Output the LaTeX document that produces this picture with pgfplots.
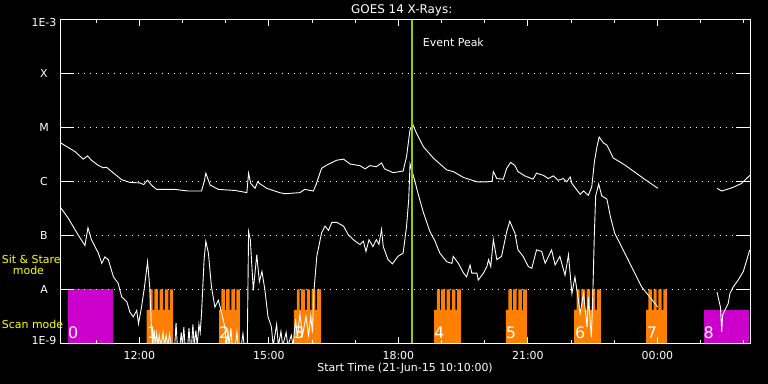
\documentclass[border=0pt]{standalone}
\usepackage{pgfplots}
\pgfplotsset{compat=1.18}
\usepackage{pgfplotstable}
\usepackage{fontspec}
\setmainfont{DejaVu Sans}
\definecolor{pkgreen}{RGB}{153,204,0}
\definecolor{modeorange}{RGB}{255,128,0}
\definecolor{modepurple}{RGB}{204,0,204}
\definecolor{labyellow}{RGB}{255,255,0}

% long-wavelength channel (1-8 A), hours since 00:00 21-Jun, log10 flux
\pgfplotstableread{
x y
10.18 -5.29
10.51 -5.45
10.70 -5.59
10.80 -5.53
10.89 -5.61
11.04 -5.70
11.16 -5.75
11.24 -5.74
11.39 -5.84
11.59 -5.97
11.78 -6.02
12.01 -6.03
12.10 -6.06
12.19 -5.98
12.28 -6.07
12.40 -6.15
12.59 -6.15
12.82 -6.15
13.13 -6.18
13.44 -6.18
13.50 -6.01
13.54 -5.85
13.64 -6.07
13.83 -6.15
14.22 -6.17
14.49 -6.21
14.53 -5.85
14.58 -6.04
14.68 -6.13
14.74 -6.01
14.80 -6.05
14.95 -6.13
15.25 -6.21
15.37 -6.23
15.72 -6.21
15.83 -6.15
16.03 -6.18
16.09 -6.07
16.22 -5.76
16.34 -5.70
16.57 -5.61
16.73 -5.59
16.88 -5.68
17.11 -5.71
17.23 -5.77
17.34 -5.71
17.49 -5.73
17.61 -5.66
17.68 -5.77
17.88 -5.84
18.11 -5.81
18.19 -5.54
18.27 -5.04
18.33 -4.94
18.42 -5.11
18.58 -5.36
18.81 -5.57
19.12 -5.79
19.27 -5.82
19.51 -5.93
19.82 -6.01
20.05 -6.01
20.17 -6.00
20.20 -5.82
20.28 -5.95
20.43 -5.96
20.51 -5.76
20.60 -5.65
20.70 -5.71
20.77 -5.82
20.93 -5.90
21.12 -5.96
21.20 -5.85
21.36 -5.89
21.47 -5.95
21.59 -5.90
21.70 -5.98
21.82 -5.95
21.90 -6.01
21.98 -5.92
22.02 -6.04
22.21 -6.24
22.29 -6.18
22.40 -6.26
22.48 -6.10
22.54 -5.64
22.60 -5.36
22.65 -5.18
22.75 -5.29
22.83 -5.33
22.98 -5.57
23.25 -5.70
23.63 -5.92
24.01 -6.13
}\upA
\pgfplotstableread{
x y
25.38 -6.13
25.49 -6.18
25.73 -6.12
25.95 -6.04
26.14 -5.89
}\upB

% short-wavelength channel (0.5-4 A); -9.05 = below the plotted range
\pgfplotstableread{
x y
10.18 -6.49
10.35 -6.68
10.58 -6.99
10.74 -7.19
10.81 -6.86
10.89 -7.08
11.05 -7.33
11.13 -7.52
11.20 -7.40
11.28 -7.45
11.40 -7.77
11.51 -7.89
11.59 -8.14
11.71 -8.23
11.78 -8.42
11.86 -8.51
11.94 -8.39
11.98 -8.64
12.05 -8.33
12.12 -7.95
12.19 -7.49
12.24 -7.95
12.28 -8.70
12.31 -9.05
12.34 -8.75
12.37 -9.05
12.40 -8.82
12.43 -9.05
12.46 -8.85
12.50 -9.05
12.55 -8.80
12.58 -9.05
12.62 -8.85
12.66 -9.05
12.70 -8.83
12.74 -9.05
12.82 -9.05
12.85 -8.62
12.88 -9.05
12.94 -9.05
12.97 -8.80
13.00 -9.05
13.03 -8.70
13.06 -9.05
13.12 -9.05
13.15 -8.72
13.18 -9.05
13.21 -9.05
13.24 -8.65
13.27 -9.05
13.31 -8.76
13.34 -9.05
13.38 -8.65
13.41 -8.80
13.44 -8.45
13.50 -7.45
13.54 -7.11
13.60 -7.33
13.67 -7.95
13.75 -8.33
13.83 -8.20
13.91 -8.45
13.98 -8.70
14.02 -9.05
14.05 -8.75
14.08 -9.05
14.12 -8.72
14.15 -9.05
14.22 -9.05
14.26 -8.80
14.29 -9.05
14.36 -9.05
14.40 -8.82
14.43 -9.05
14.50 -9.05
14.53 -6.93
14.57 -7.08
14.64 -8.02
14.72 -7.36
14.78 -7.86
14.84 -7.67
14.91 -8.02
14.98 -8.51
15.06 -8.70
15.10 -9.05
15.18 -8.65
15.22 -9.05
15.28 -8.78
15.32 -9.05
15.40 -8.80
15.44 -9.05
15.52 -8.85
15.56 -9.05
15.62 -8.55
15.66 -8.90
15.72 -8.45
15.78 -8.85
15.86 -8.50
15.92 -8.85
15.97 -8.50
16.01 -8.80
16.04 -8.08
16.11 -7.39
16.22 -6.96
16.30 -6.83
16.38 -6.91
16.46 -6.76
16.57 -6.76
16.73 -6.83
16.84 -6.99
17.00 -7.11
17.11 -7.17
17.19 -7.11
17.25 -7.30
17.32 -7.08
17.41 -7.21
17.49 -7.08
17.55 -7.17
17.61 -6.89
17.65 -7.21
17.76 -7.45
17.86 -7.53
17.99 -7.39
18.11 -7.33
18.19 -6.83
18.24 -6.33
18.27 -5.68
18.38 -5.99
18.46 -6.24
18.58 -6.58
18.73 -6.93
18.85 -7.11
18.96 -7.33
19.12 -7.49
19.24 -7.52
19.27 -7.39
19.39 -7.52
19.51 -7.70
19.58 -7.77
19.66 -7.55
19.70 -7.70
19.82 -7.70
19.85 -7.83
19.97 -7.70
20.05 -7.58
20.09 -7.45
20.14 -7.58
20.20 -7.08
20.28 -7.45
20.39 -7.39
20.51 -6.93
20.58 -6.74
20.70 -6.96
20.77 -7.27
20.89 -7.39
21.01 -7.58
21.09 -7.61
21.20 -7.27
21.32 -7.30
21.40 -7.52
21.55 -7.27
21.63 -7.55
21.74 -7.39
21.86 -7.74
21.94 -7.36
22.02 -8.08
22.09 -7.77
22.17 -8.20
22.21 -8.45
22.29 -8.08
22.37 -8.70
22.40 -8.14
22.47 -8.89
22.50 -8.20
22.54 -6.96
22.57 -6.27
22.64 -6.05
22.71 -6.27
22.83 -6.33
22.91 -6.65
23.01 -6.96
23.32 -7.45
23.63 -7.95
24.01 -8.33
}\loA
\pgfplotstableread{
x y
25.38 -8.05
25.42 -8.19
25.46 -8.33
25.49 -8.79
25.51 -8.48
25.56 -8.39
25.64 -8.26
25.68 -8.08
25.76 -7.95
25.87 -7.83
25.99 -7.67
26.14 -7.27
}\loB

\begin{document}
\begin{tikzpicture}[font=\fontsize{11}{13}\selectfont]
\path[use as bounding box, fill=black] (0,0) rectangle (768bp,384bp);
\begin{axis}[
  at={(60.2bp,40.7bp)}, anchor=south west,
  scale only axis, width=689.8bp, height=324bp,
  xmin=10.1667, xmax=26.145, ymin=-9, ymax=-3,
  axis on top,
  axis line style={white, line width=1bp},
  xtick={12,15,18,21,24},
  xticklabels={12:00,15:00,18:00,21:00,00:00},
  minor xtick={11,13,14,16,17,19,20,22,23,25,26},
  ytick={-9,-8,-7,-6,-5,-4,-3},
  yticklabels={{\rule[-6.6bp]{0pt}{6.6bp}1E-9},A,B,C,M,X,{\rule{0pt}{15.4bp}1E-3}},
  tick align=inside,
  tick style={white, line width=1bp},
  xtick style={/pgfplots/major tick length=6.3bp, /pgfplots/minor tick length=3.3bp},
  ytick style={/pgfplots/major tick length=14bp},
  ymajorgrids,
  grid style={white, line width=1bp, dash pattern=on 1bp off 5bp},
  xticklabel style={text=white, anchor=base, yshift=-16bp, inner sep=0pt, font=\fontsize{11}{13}\selectfont},
  yticklabel style={text=white, anchor=center, xshift=-16.2bp, inner sep=0pt, font=\fontsize{11}{13}\selectfont},
]
% observing-mode blocks
\addplot[fill=modepurple, draw=none] coordinates {(10.34,-9) (10.34,-8) (11.38,-8) (11.38,-9)};
\addplot[fill=modeorange, draw=none, const plot] coordinates {(12.17,-9) (12.17,-8.38) (12.24,-8) (12.31,-8.38) (12.35,-8) (12.43,-8.38) (12.47,-8) (12.55,-8.38) (12.59,-8) (12.67,-8.38) (12.71,-8) (12.78,-8) (12.78,-9)};
\addplot[fill=modeorange, draw=none, const plot] coordinates {(13.85,-9) (13.85,-8.38) (13.90,-8) (13.98,-8.38) (14.01,-8) (14.09,-8.38) (14.13,-8) (14.21,-8.38) (14.25,-8) (14.33,-8) (14.33,-9)};
\addplot[fill=modeorange, draw=none, const plot] coordinates {(15.58,-9) (15.58,-8.38) (15.65,-8) (15.71,-8.38) (15.75,-8) (15.84,-8.38) (15.88,-8) (15.95,-8.38) (15.99,-8) (16.08,-8.38) (16.12,-8) (16.21,-8) (16.21,-9)};
\addplot[fill=modeorange, draw=none, const plot] coordinates {(18.83,-9) (18.83,-8.38) (18.89,-8) (18.96,-8.38) (18.99,-8) (19.08,-8.38) (19.12,-8) (19.20,-8.38) (19.24,-8) (19.32,-8.38) (19.36,-8) (19.45,-8) (19.45,-9)};
\addplot[fill=modeorange, draw=none, const plot] coordinates {(20.49,-9) (20.49,-8.38) (20.55,-8) (20.63,-8.38) (20.66,-8) (20.74,-8.38) (20.78,-8) (20.86,-8.38) (20.89,-8) (20.98,-8) (20.98,-9)};
\addplot[fill=modeorange, draw=none, const plot] coordinates {(22.07,-9) (22.07,-8.38) (22.13,-8) (22.20,-8.38) (22.24,-8) (22.32,-8.38) (22.36,-8) (22.44,-8.38) (22.48,-8) (22.56,-8.38) (22.60,-8) (22.69,-8) (22.69,-9)};
\addplot[fill=modeorange, draw=none, const plot] coordinates {(23.74,-9) (23.74,-8.38) (23.79,-8) (23.87,-8.38) (23.91,-8) (23.98,-8.38) (24.02,-8) (24.10,-8.38) (24.14,-8) (24.22,-8) (24.22,-9)};
\addplot[fill=modepurple, draw=none] coordinates {(25.08,-9) (25.08,-8.38) (26.12,-8.38) (26.12,-9)};
% GOES curves
\addplot[white, line width=0.9bp] table[x=x,y=y] {\upA};
\addplot[white, line width=0.9bp] table[x=x,y=y] {\upB};
\addplot[white, line width=0.9bp] table[x=x,y=y] {\loA};
\addplot[white, line width=0.9bp] table[x=x,y=y] {\loB};
% event peak
\addplot[pkgreen, line width=2bp] coordinates {(18.32,-9) (18.32,-3)};
\end{axis}
\node[anchor=base, text=white, inner sep=0pt, font=\fontsize{12}{14}\selectfont] at (401.7bp,370.7bp) {GOES 14 X-Rays:};
\node[anchor=base west, text=white, inner sep=0pt] at (422.7bp,337.3bp) {Event Peak};
\node[anchor=base west, text=labyellow, inner sep=0pt] at (1.7bp,120.7bp) {Sit \& Stare};
\node[anchor=base west, text=labyellow, inner sep=0pt] at (12.7bp,109bp) {mode};
\node[anchor=base west, text=labyellow, inner sep=0pt] at (1.7bp,55.7bp) {Scan mode};
\node[anchor=base, text=white, inner sep=0pt] at (405.1bp,12.7bp) {Start Time (21-Jun-15 10:10:00)};
\begin{scope}[every node/.style={anchor=base west, text=white, inner sep=0pt, font=\fontsize{16}{18}\selectfont}]
\node at (68bp,45bp) {0};
\node at (147bp,45bp) {1};
\node at (219bp,45bp) {2};
\node at (294bp,45bp) {3};
\node at (434bp,45bp) {4};
\node at (505.7bp,45bp) {5};
\node at (575bp,45bp) {6};
\node at (646.7bp,45bp) {7};
\node at (703.3bp,45bp) {8};
\end{scope}
\end{tikzpicture}
\end{document}
